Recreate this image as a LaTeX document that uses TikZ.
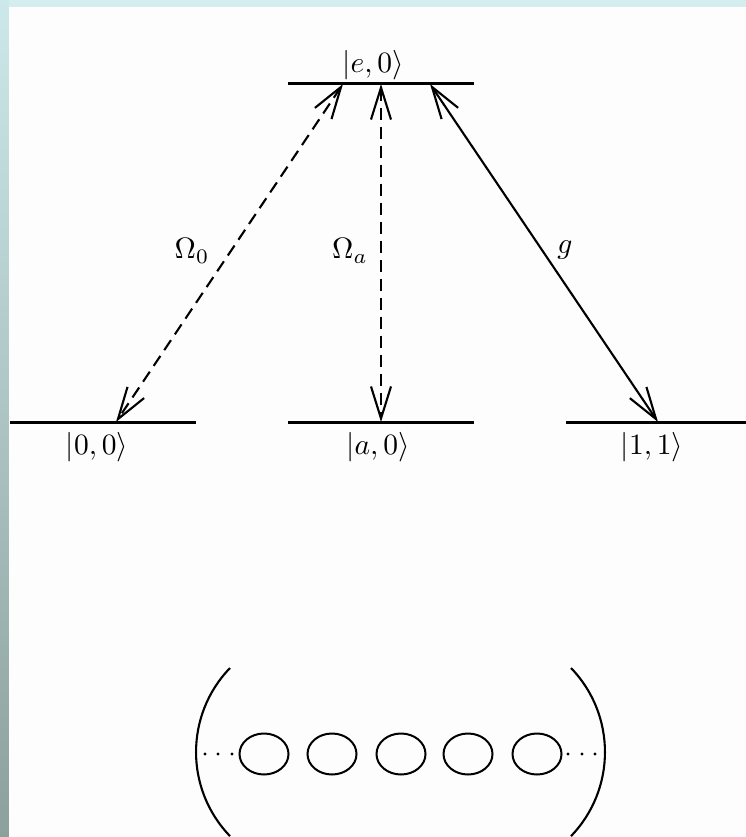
\documentclass[tikz,border=0pt]{standalone}
\usetikzlibrary{arrows.meta,shapes.geometric}
\definecolor{bgtop}{RGB}{212,238,240}
\definecolor{striptop}{RGB}{205,232,234}
\definecolor{stripbot}{RGB}{140,160,156}
\definecolor{paper}{RGB}{253,253,253}
\newcommand{\biglbl}[1]{\scalebox{2.95}{$#1$}}
\begin{document}
\begin{tikzpicture}[x=1pt,y=1pt,
  level/.style={line width=3pt},
  trans/.style={line width=2.1pt,
    {Straight Barb[length=32pt,width=20pt]}-{Straight Barb[length=32pt,width=20pt]}},
  dashtrans/.style={trans, dash pattern=on 12pt off 7pt},
  lbl/.style={inner sep=0pt},
  atom/.style={draw, ellipse, line width=2pt, minimum width=49pt, minimum height=41pt, inner sep=0pt},
  bracket/.style={line width=2.1pt},
  dot/.style={fill=black}]
\useasboundingbox (0,0) rectangle (746,-837);
\fill[bgtop] (0,0) rectangle (746,-837);
\shade[top color=striptop, bottom color=stripbot] (0,0) rectangle (9,-837);
\fill[paper] (9,-7) rectangle (746,-837);

% energy levels
\coordinate (eL) at (288,-84);  \coordinate (eR) at (474,-84);
\coordinate (zL) at (10,-422);  \coordinate (zR) at (196,-422);
\coordinate (aL) at (288,-422); \coordinate (aR) at (474,-422);
\coordinate (oL) at (566,-422); \coordinate (oR) at (746,-422);
\draw[level] (eL) -- (eR);
\draw[level] (zL) -- (zR);
\draw[level] (aL) -- (aR);
\draw[level] (oL) -- (oR);

% transition end points
\coordinate (e0) at (343,-84);
\coordinate (ea) at (381,-84);
\coordinate (e1) at (430,-84);
\coordinate (g0) at (116,-422);
\coordinate (ga) at (381,-422);
\coordinate (g1) at (658,-422);
\draw[dashtrans] (e0) -- (g0);
\draw[dashtrans] (ea) -- (ga);
\draw[trans] (e1) -- (g1);

% labels
\node[lbl] (le) at (373,-65) {\biglbl{|e,0\rangle}};
\node[lbl] (l0) at (97,-447) {\biglbl{|0,0\rangle}};
\node[lbl] (la) at (378,-447) {\biglbl{|a,0\rangle}};
\node[lbl] (l1) at (652,-447) {\biglbl{|1,1\rangle}};
\node[lbl] (o0) at (192,-251) {\biglbl{\Omega_0}};
\node[lbl] (oa) at (350,-251) {\biglbl{\Omega_a}};
\node[lbl] (gl) at (565,-250) {\biglbl{g}};

% atoms in cavity
\draw[bracket] (230,-668) arc[start angle=136, end angle=224, radius=121pt];
\draw[bracket] (571,-668) arc[start angle=44, end angle=-44, radius=121pt];
\node[atom] (c1) at (264,-754) {};
\node[atom] (c2) at (332,-754) {};
\node[atom] (c3) at (401,-754) {};
\node[atom] (c4) at (468,-754) {};
\node[atom] (c5) at (537,-754) {};
\foreach \x in {205,218,232,568,582,595}
  \fill[dot] (\x,-754) circle (1.6pt);
\end{tikzpicture}
\end{document}
